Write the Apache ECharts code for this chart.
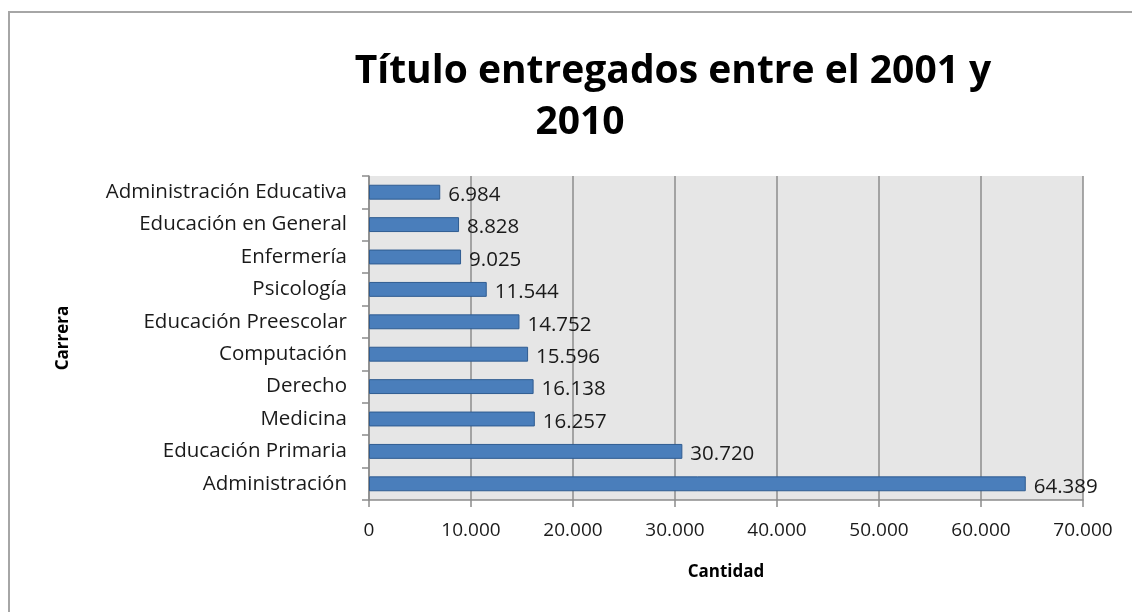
<!DOCTYPE html>
<html>
<head>
<meta charset="utf-8">
<script src="https://cdn.jsdelivr.net/npm/echarts@6/dist/echarts.min.js"></script>
<style>
  html, body { margin: 0; padding: 0; background: #ffffff; }
  #chart { width: 1132px; height: 612px; }
</style>
</head>
<body>
<div id="chart"></div>
<script>
const CARRERAS = [
  "Administración",
  "Educación Primaria",
  "Medicina",
  "Derecho",
  "Computación",
  "Educación Preescolar",
  "Psicología",
  "Enfermería",
  "Educación en General",
  "Administración Educativa",
];
const CANTIDADES = [64389, 30720, 16257, 16138, 15596, 14752, 11544, 9025, 8828, 6984];
const TITLE_LINES = ["Título entregados entre el 2001 y", "2010"];

const FONT = "'Open Sans', 'Noto Sans', sans-serif";

function formatNumber(value) {
  return String(value).replace(/\B(?=(\d{3})+(?!\d))/g, ".");
}

const chart = echarts.init(document.getElementById("chart"));

chart.setOption({
  animation: false,
  backgroundColor: "#ffffff",
  title: [
    {
      text: TITLE_LINES[0],
      left: 668,
      top: 47,
      textAlign: "center",
      textStyle: { fontFamily: FONT, fontSize: 39, fontWeight: "bold", color: "#000000" },
    },
    {
      text: TITLE_LINES[1],
      left: 575,
      top: 98,
      textAlign: "center",
      textStyle: { fontFamily: FONT, fontSize: 39, fontWeight: "bold", color: "#000000" },
    },
  ],
  graphic: [
    {
      type: "rect",
      shape: { x: 9, y: 12, width: 1200, height: 700 },
      style: { fill: "none", stroke: "#a6a6a6", lineWidth: 2 },
      silent: true,
    },
  ],
  grid: {
    left: 369,
    right: 49,
    top: 176,
    bottom: 112,
    show: true,
    backgroundColor: "#e6e6e6",
    borderWidth: 0,
  },
  xAxis: {
    type: "value",
    min: 0,
    max: 70000,
    interval: 10000,
    name: "Cantidad",
    nameLocation: "middle",
    nameGap: 64,
    nameTextStyle: { fontFamily: FONT, fontSize: 17, fontWeight: "bold", color: "#000000" },
    axisLine: { show: true, lineStyle: { color: "#8c8c8c", width: 1.5 } },
    axisTick: { show: true, length: 7, lineStyle: { color: "#8c8c8c", width: 1.5 } },
    axisLabel: {
      fontFamily: FONT,
      fontSize: 19,
      color: "#1a1a1a",
      margin: 21,
      formatter: (v) => formatNumber(v),
    },
    splitLine: { show: true, lineStyle: { color: "#8c8c8c", width: 1.5 } },
  },
  yAxis: {
    type: "category",
    data: CARRERAS,
    name: "Carrera",
    nameLocation: "middle",
    nameGap: 297,
    nameRotate: 90,
    nameTextStyle: { fontFamily: FONT, fontSize: 17, fontWeight: "bold", color: "#000000" },
    axisLine: { show: true, lineStyle: { color: "#8c8c8c", width: 1.5 } },
    axisTick: { show: true, length: 7, lineStyle: { color: "#8c8c8c", width: 1.5 } },
    axisLabel: {
      fontFamily: FONT,
      fontSize: 20.5,
      color: "#1a1a1a",
      margin: 22,
    },
    splitLine: { show: false },
  },
  series: [
    {
      name: "Cantidad",
      type: "bar",
      data: CANTIDADES,
      barWidth: "46%",
      itemStyle: { color: "#4a7ebb", borderColor: "#2f5c91", borderWidth: 1 },
      label: {
        show: true,
        position: "right",
        distance: 8,
        offset: [0, 3],
        fontFamily: FONT,
        fontSize: 20.5,
        color: "#1a1a1a",
        formatter: (p) => formatNumber(p.value),
      },
    },
  ],
});
</script>
</body>
</html>
